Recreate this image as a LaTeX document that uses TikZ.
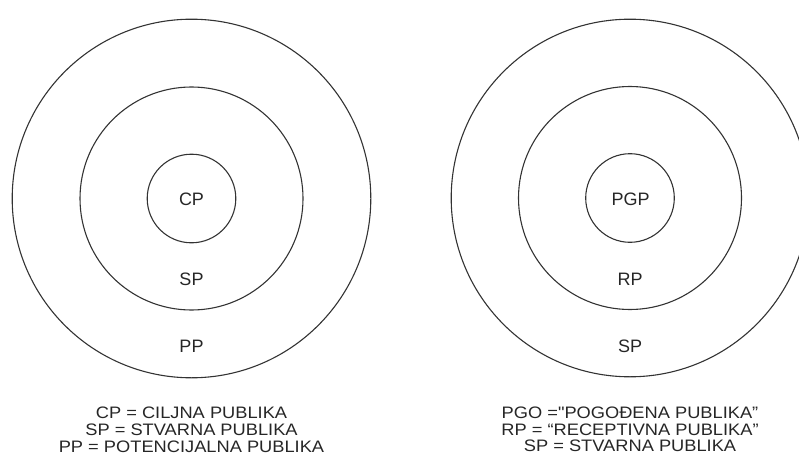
\documentclass[tikz,border=0pt]{standalone}
\usepackage{fontspec}
\setmainfont{Liberation Sans}
\newfontfamily\legendfont[FakeStretch=1.1]{Liberation Sans}
\usetikzlibrary{positioning}

\begin{document}
\begin{tikzpicture}[%
    x=1pt, y=-1pt,
    ring/.style={%
        draw=black!80,
        line width=1.1pt,
        circle,
        inner sep=0pt,
        minimum size=#1
    },
    ringLabel/.style={%
        font=\fontsize{18}{20}\selectfont,
        text=black!85,
        inner sep=0pt,
        text height=13pt,
        text depth=0pt,
        node distance=29pt
    },
    legendLine/.style={%
        font=\legendfont\fontsize{16.6}{18}\selectfont,
        text=black!85,
        inner sep=0pt,
        text height=11.8pt,
        text depth=0pt,
        node distance=4.6pt
    }
]
\clip (0,0) rectangle (799,465);

% Left target
\node[ring=358.6pt] (leftOuter) at (191.5,198.5) {};
\node[ring=223pt] (leftMiddle) at (191.5,198.5) {};
\node[ring=88.6pt] (leftInner) at (191.5,198.5) {};

\node[ringLabel] (cpLabel) at (191.5,198.8) {CP};
\node[ringLabel, below=of leftInner] (spLabel) {SP};
\node[ringLabel, below=of leftMiddle] (ppLabel) {PP};

% Right target
\node[ring=357.6pt] (rightOuter) at (630,198) {};
\node[ring=223pt] (rightMiddle) at (630,198) {};
\node[ring=88.6pt] (rightInner) at (630,198) {};

\node[ringLabel] (pgpLabel) at (630.5,199.3) {PGP};
\node[ringLabel, below=of rightInner] (rpLabel) {RP};
\node[ringLabel, below=of rightMiddle] (spLabelR) {SP};

% Legends
\node[legendLine, below=28.6pt of leftOuter] (cpDef) {CP = CILJNA PUBLIKA};
\node[legendLine, below=of cpDef] (spDef) {SP = STVARNA PUBLIKA};
\node[legendLine, below=of spDef] (ppDef) {PP = POTENCIJALNA PUBLIKA};

\node[legendLine, below=29pt of rightOuter] (pgpDef) {PGO ="POGOĐENA PUBLIKA”};
\node[legendLine, below=of pgpDef] (rpDef) {RP = “RECEPTIVNA PUBLIKA”};
\node[legendLine, below=of rpDef] (spDefR) {SP = STVARNA PUBLIKA};

\end{tikzpicture}
\end{document}
